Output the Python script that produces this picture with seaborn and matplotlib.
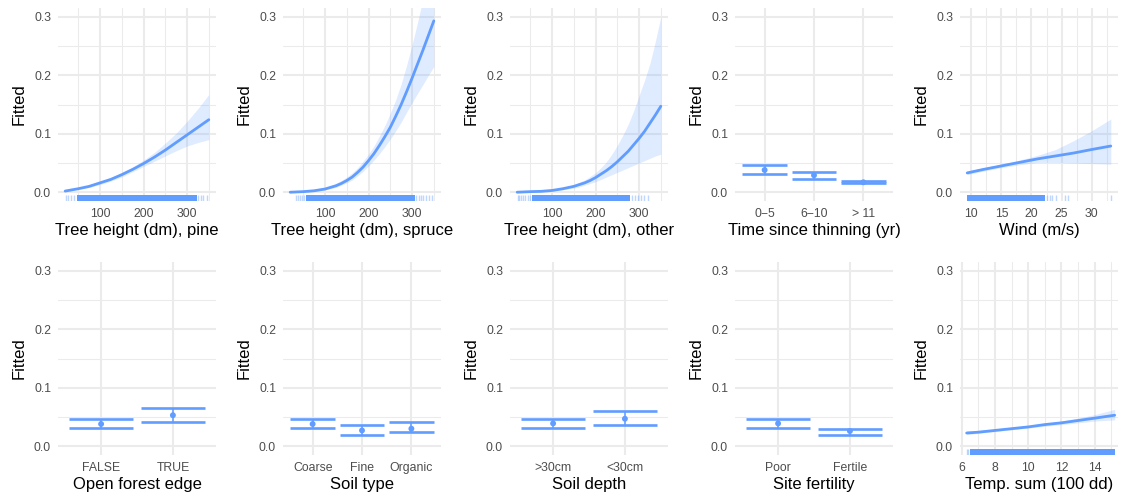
import numpy as np
import matplotlib
matplotlib.use("Agg")
import matplotlib.pyplot as plt
from matplotlib.ticker import FixedLocator, FormatStrFormatter, NullLocator
import seaborn as sns

# === 1. Values ===
# continuous effects: x grid, fitted, lower / upper band
pine_x = [20, 50, 75, 100, 125, 150, 175, 200, 225, 250, 275, 300, 325, 350]
pine_fit = [0.002, 0.006, 0.010, 0.016, 0.022, 0.030, 0.039, 0.049, 0.060, 0.072, 0.085, 0.098, 0.111, 0.124]
pine_lo = [0.001, 0.005, 0.008, 0.013, 0.019, 0.026, 0.035, 0.044, 0.053, 0.062, 0.071, 0.079, 0.085, 0.090]
pine_hi = [0.003, 0.007, 0.012, 0.018, 0.025, 0.034, 0.043, 0.055, 0.068, 0.084, 0.101, 0.121, 0.143, 0.167]

spruce_x = [20, 50, 75, 100, 125, 137.5, 150, 162.5, 175, 187.5, 200, 212.5, 225, 237.5,
            250, 262.5, 275, 287.5, 300, 312.5, 325, 337.5, 350]
spruce_fit = [0.000, 0.001, 0.0025, 0.0055, 0.011, 0.015, 0.020, 0.026, 0.034, 0.043, 0.054, 0.066, 0.080, 0.095,
              0.111, 0.130, 0.150, 0.172, 0.195, 0.219, 0.243, 0.268, 0.293]
spruce_lo = [0.000, 0.0005, 0.0015, 0.004, 0.008, 0.012, 0.016, 0.021, 0.028, 0.036, 0.045, 0.055, 0.066, 0.078,
             0.091, 0.105, 0.120, 0.137, 0.153, 0.169, 0.184, 0.200, 0.215]
spruce_hi = [0.001, 0.002, 0.0035, 0.007, 0.015, 0.020, 0.026, 0.033, 0.042, 0.053, 0.065, 0.079, 0.096, 0.114,
             0.135, 0.158, 0.185, 0.217, 0.252, 0.290, 0.330, 0.370, 0.410]

other_x = [20, 50, 75, 100, 125, 150, 162.5, 175, 187.5, 200, 212.5, 225, 237.5, 250,
           262.5, 275, 287.5, 300, 312.5, 325, 337.5, 350]
other_fit = [0.000, 0.001, 0.0015, 0.003, 0.006, 0.010, 0.013, 0.016, 0.020, 0.025, 0.031, 0.037, 0.044, 0.052,
             0.061, 0.070, 0.081, 0.092, 0.104, 0.118, 0.132, 0.147]
other_lo = [0.000, 0.000, 0.001, 0.002, 0.004, 0.007, 0.009, 0.012, 0.015, 0.018, 0.022, 0.026, 0.030, 0.034,
            0.038, 0.042, 0.046, 0.050, 0.054, 0.058, 0.062, 0.065]
other_hi = [0.001, 0.002, 0.003, 0.005, 0.008, 0.013, 0.017, 0.021, 0.027, 0.033, 0.042, 0.052, 0.065, 0.080,
            0.097, 0.116, 0.139, 0.165, 0.191, 0.220, 0.258, 0.300]

wind_x = [9.3, 12, 15, 18, 21, 24, 27, 30, 33.2]
wind_fit = [0.033, 0.039, 0.045, 0.051, 0.057, 0.062, 0.067, 0.073, 0.079]
wind_lo = [0.030, 0.036, 0.042, 0.047, 0.051, 0.051, 0.050, 0.049, 0.048]
wind_hi = [0.036, 0.042, 0.048, 0.055, 0.063, 0.073, 0.088, 0.105, 0.125]

temp_x = [6.3, 7, 8, 9, 10, 11, 12, 13, 14, 15.2]
temp_fit = [0.0226, 0.024, 0.027, 0.030, 0.033, 0.037, 0.040, 0.044, 0.048, 0.053]
temp_lo = [0.020, 0.022, 0.025, 0.028, 0.031, 0.034, 0.037, 0.040, 0.043, 0.045]
temp_hi = [0.026, 0.027, 0.029, 0.032, 0.035, 0.039, 0.043, 0.048, 0.054, 0.063]

# rug: dense stretches (start, end) and single sparse marks
pine_rug_dense = [(48, 322)]
pine_rug_sparse = [22, 26, 34, 40, 326, 331, 337, 345]
spruce_rug_dense = [(56, 307)]
spruce_rug_sparse = [34, 38, 42, 47, 52, 310, 315, 320, 326, 333, 340, 346]
other_rug_dense = [(55, 280)]
other_rug_sparse = [22, 24, 28, 33, 38, 44, 50, 283, 290, 297, 305, 312, 320]
wind_rug_dense = [(9.3, 22.3)]
wind_rug_sparse = [22.6, 23.0, 23.4, 24.0, 25.6, 26.1, 33.2]
temp_rug_dense = [(6.5, 15.2)]
temp_rug_sparse = [6.3, 6.4]

# categorical effects
thin_cats = ["0\u22125", "6\u221210", "> 11"]
thin_fit = [0.038, 0.029, 0.017]
thin_lo = [0.032, 0.023, 0.015]
thin_hi = [0.047, 0.035, 0.020]

edge_cats = ["FALSE", "TRUE"]
edge_fit = [0.038, 0.053]
edge_lo = [0.031, 0.041]
edge_hi = [0.046, 0.065]

soil_cats = ["Coarse", "Fine", "Organic"]
soil_fit = [0.038, 0.027, 0.030]
soil_lo = [0.031, 0.020, 0.024]
soil_hi = [0.046, 0.037, 0.041]

depth_cats = [">30cm", "<30cm"]
depth_fit = [0.039, 0.047]
depth_lo = [0.032, 0.037]
depth_hi = [0.047, 0.060]

fert_cats = ["Poor", "Fertile"]
fert_fit = [0.039, 0.026]
fert_lo = [0.031, 0.020]
fert_hi = [0.047, 0.030]

# === 2. Style ===
sns.set_theme(style="white")
plt.rcParams["font.family"] = ["Liberation Sans", "DejaVu Sans"]

BLUE = "#619CFF"
GRID = "#EBEBEB"
W, H = 1123, 501

fig = plt.figure(figsize=(W / 100, H / 100), dpi=100)

col_left = [58, 283, 510, 735, 960]
row_top = [8, 262]
panel_w, panel_h = 158, 193


def make_ax(row, col):
    l = col_left[col] / W
    b = 1 - (row_top[row] + panel_h) / H
    return fig.add_axes([l, b, panel_w / W, panel_h / H])


def style(ax, xlabel):
    ax.set_ylim(-0.015, 0.315)
    ax.yaxis.set_major_locator(FixedLocator([0, 0.1, 0.2, 0.3]))
    ax.yaxis.set_minor_locator(FixedLocator([0.05, 0.15, 0.25]))
    ax.yaxis.set_major_formatter(FormatStrFormatter("%.1f"))
    for s in ax.spines.values():
        s.set_visible(False)
    ax.grid(which="major", color=GRID, lw=1.5)
    ax.grid(which="minor", color=GRID, lw=0.75)
    ax.set_axisbelow(True)
    ax.tick_params(which="both", length=0, labelsize=8.8, labelcolor="#4D4D4D", pad=5)
    ax.set_xlabel(xlabel, fontsize=12, color="black", labelpad=2.5)
    ax.set_ylabel("Fitted", fontsize=12, color="black", labelpad=5)


def cont_panel(ax, x, fit, lo, hi, dense, sparse, xlim, xmajor, xminor, xlabel):
    ax.fill_between(x, lo, hi, color=BLUE, alpha=0.2, lw=0)
    sns.lineplot(x=x, y=fit, ax=ax, color=BLUE, lw=2, solid_joinstyle="round")
    for a, b in dense:
        ax.axvspan(a, b, ymin=0, ymax=0.033, color=BLUE, lw=0)
    sns.rugplot(x=sparse, ax=ax, height=0.033, color=BLUE, alpha=0.4, lw=1.4)
    ax.set_xlim(*xlim)
    ax.xaxis.set_major_locator(FixedLocator(xmajor))
    ax.xaxis.set_minor_locator(FixedLocator(xminor))
    ax.xaxis.set_major_formatter(FormatStrFormatter("%g"))
    style(ax, xlabel)


def cat_panel(ax, cats, fit, lo, hi, xlabel):
    pos = np.arange(len(cats))
    ax.vlines(pos, lo, hi, color=BLUE, lw=1.1)
    ax.hlines(lo, pos - 0.45, pos + 0.45, color=BLUE, lw=1.9)
    ax.hlines(hi, pos - 0.45, pos + 0.45, color=BLUE, lw=1.9)
    sns.scatterplot(x=pos, y=fit, ax=ax, color=BLUE, s=18, edgecolor="none")
    ax.set_xlim(-0.6, len(cats) - 0.4)
    ax.set_xticks(pos, cats)
    ax.xaxis.set_minor_locator(NullLocator())
    style(ax, xlabel)


# === 3. Panels ===
tree_major = [100, 200, 300]
tree_minor = [50, 150, 250, 350]
cont_panel(make_ax(0, 0), pine_x, pine_fit, pine_lo, pine_hi, pine_rug_dense, pine_rug_sparse,
           (3.5, 366.5), tree_major, tree_minor, "Tree height (dm), pine")
cont_panel(make_ax(0, 1), spruce_x, spruce_fit, spruce_lo, spruce_hi, spruce_rug_dense, spruce_rug_sparse,
           (3.5, 366.5), tree_major, tree_minor, "Tree height (dm), spruce")
cont_panel(make_ax(0, 2), other_x, other_fit, other_lo, other_hi, other_rug_dense, other_rug_sparse,
           (3.5, 366.5), tree_major, tree_minor, "Tree height (dm), other")
cat_panel(make_ax(0, 3), thin_cats, thin_fit, thin_lo, thin_hi, "Time since thinning (yr)")
cont_panel(make_ax(0, 4), wind_x, wind_fit, wind_lo, wind_hi, wind_rug_dense, wind_rug_sparse,
           (8.1, 34.4), [10, 15, 20, 25, 30], [12.5, 17.5, 22.5, 27.5, 32.5], "Wind (m/s)")

cat_panel(make_ax(1, 0), edge_cats, edge_fit, edge_lo, edge_hi, "Open forest edge")
cat_panel(make_ax(1, 1), soil_cats, soil_fit, soil_lo, soil_hi, "Soil type")
cat_panel(make_ax(1, 2), depth_cats, depth_fit, depth_lo, depth_hi, "Soil depth")
cat_panel(make_ax(1, 3), fert_cats, fert_fit, fert_lo, fert_hi, "Site fertility")
cont_panel(make_ax(1, 4), temp_x, temp_fit, temp_lo, temp_hi, temp_rug_dense, temp_rug_sparse,
           (5.9, 15.4), [6, 8, 10, 12, 14], [7, 9, 11, 13, 15], "Temp. sum (100 dd)")

fig.savefig("out.png", dpi=100)
